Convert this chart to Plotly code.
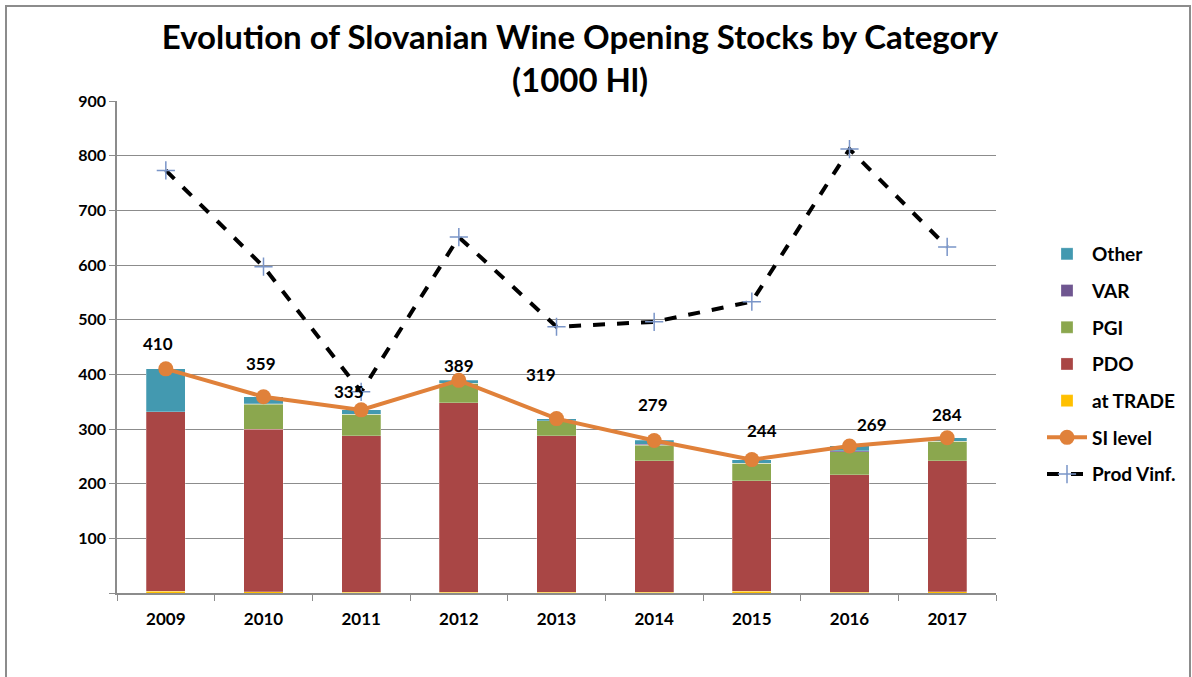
import plotly.graph_objects as go

years = ["2009", "2010", "2011", "2012", "2013", "2014", "2015", "2016", "2017"]
at_trade = [3, 2, 1, 1, 1, 1, 3, 1, 2]
pdo = [329, 298, 287, 347, 287, 241, 202, 215, 240]
pgi = [0, 45, 39, 36, 27, 28, 32, 42, 36]
var = [0, 1, 0, 0, 0, 2, 0, 2, 0]
other = [78, 13, 8, 5, 4, 7, 7, 9, 6]
si_level = [410, 359, 335, 389, 319, 279, 244, 269, 284]
prod_vinf = [773, 597, 368, 651, 487, 496, 533, 812, 633]

# label offsets (px) for SI level data labels
label_dx = [-8, -3, -12, 0, -16, -1, 10, 22, 0]
label_dy = [25, 33, 18, 15, 44, 36, 29, 21, 23]

FONT = "Lato"
W, H = 1192, 677
ML, MR, MT, MB = 117, 196, 101, 84

fig = go.Figure()

bar_specs = [
    ("at TRADE", at_trade, "#FFC000", 5),
    ("PDO", pdo, "#A94645", 4),
    ("PGI", pgi, "#8BA74E", 3),
    ("VAR", var, "#6F5690", 2),
    ("Other", other, "#4399B0", 1),
]
for name, vals, col, rank in bar_specs:
    fig.add_trace(go.Bar(
        x=years, y=vals, name=name, marker_color=col,
        marker_line=dict(color="rgba(255,255,255,0.5)", width=0.5),
        legendgroup=name, legendrank=rank, hoverinfo="skip",
    ))

fig.add_trace(go.Scatter(
    x=years, y=si_level, name="SI level", mode="lines+markers",
    line=dict(color="#E0813A", width=4),
    marker=dict(color="#E0813A", size=15),
    legendgroup="si", legendrank=6,
))
fig.add_trace(go.Scatter(
    x=years, y=prod_vinf, name="Prod Vinf.", mode="lines+markers",
    line=dict(color="black", width=4, dash="dash"),
    marker=dict(symbol="cross-thin", size=13, line=dict(color="#7A95C8", width=1.5)),
    legendgroup="pv", legendrank=7,
))

for i, (v, dx, dy) in enumerate(zip(si_level, label_dx, label_dy)):
    fig.add_annotation(x=i, y=v, xref="x", yref="y", text=str(v), showarrow=False,
                       xshift=dx, yshift=dy,
                       font=dict(family=FONT, size=17, color="black", weight="bold"))

pw = W - ML - MR
ph = H - MT - MB
def px2x(p):
    return (p - ML) / pw
def py2y(p):
    return (H - MB - p) / ph

fig.add_shape(type="rect", xref="paper", yref="paper",
              x0=px2x(6), x1=px2x(1190), y0=py2y(700), y1=py2y(6),
              line=dict(color="#8C8C8C", width=2), layer="below")

fig.update_layout(
    width=W, height=H,
    margin=dict(l=ML, r=MR, t=MT, b=MB, autoexpand=False),
    paper_bgcolor="white", plot_bgcolor="white",
    barmode="stack", bargap=0.6,
    title=dict(text="Evolution of Slovanian Wine Opening Stocks by Category<br>(1000 Hl)",
               x=px2x(580), xanchor="center", xref="paper", y=1 - 49 / H, yanchor="middle",
               font=dict(family=FONT, size=33, color="black", weight="bold")),
    font=dict(family=FONT, color="black"),
    legend=dict(x=px2x(1042), y=py2y(235), xanchor="left", yanchor="top",
                font=dict(family=FONT, size=19, color="black", weight="bold"),
                tracegroupgap=9, itemwidth=40, bgcolor="rgba(0,0,0,0)"),
    showlegend=True,
)
fig.update_xaxes(type="category", range=[-0.5, len(years) - 0.5],
                 showline=True, linecolor="#8C8C8C", linewidth=1.5,
                 ticks="outside", tickson="boundaries", ticklen=6, tickcolor="#8C8C8C",
                 tickfont=dict(family=FONT, size=17, color="black", weight="bold"),
                 showgrid=False, tickangle=0, ticklabelstandoff=10)
fig.update_yaxes(range=[0, 900], tickvals=list(range(0, 1000, 100)),
                 ticktext=[""] + [str(v) for v in range(100, 1000, 100)],
                 showgrid=True, gridcolor="#8C8C8C", gridwidth=1.2,
                 showline=True, linecolor="#8C8C8C", linewidth=1.5,
                 ticks="outside", ticklen=6, tickcolor="#8C8C8C",
                 tickfont=dict(family=FONT, size=16, color="black", weight="bold"), zeroline=False)

fig.write_html("out.html", config={"displayModeBar": False},
               post_script="document.body.style.margin='0';")
